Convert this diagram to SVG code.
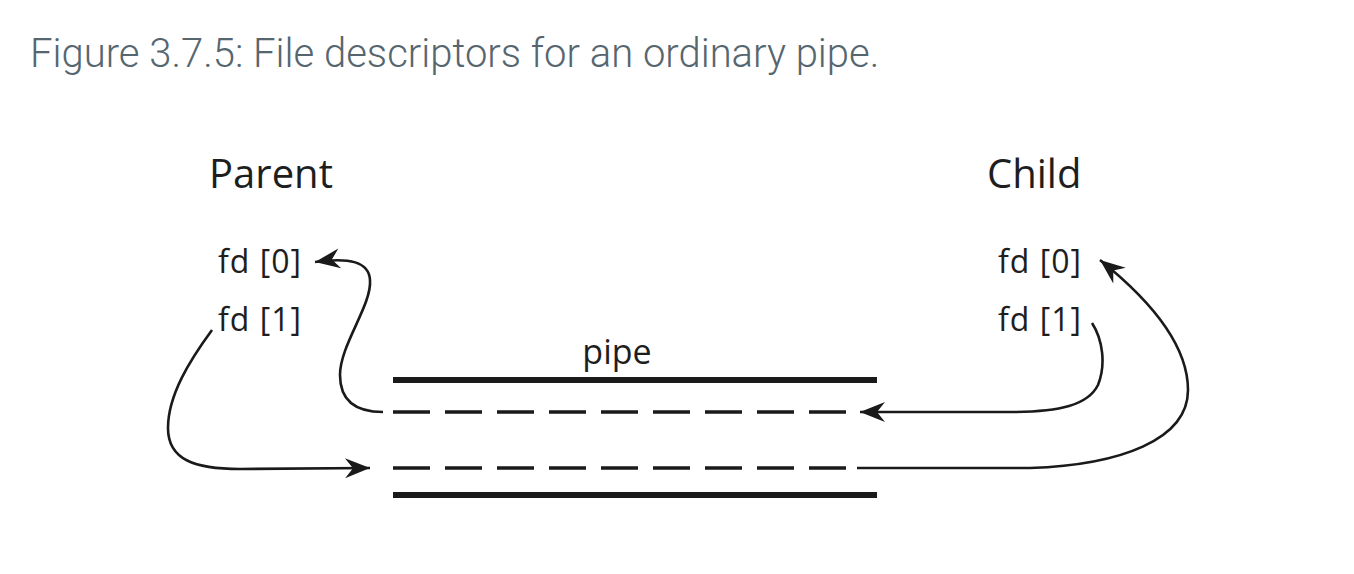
<svg xmlns="http://www.w3.org/2000/svg" width="1354" height="574" viewBox="0 0 1354 574">
<style>
.title{font-family:Roboto,"Liberation Sans",sans-serif;font-weight:300;font-size:40px;fill:#56666f}
.lbl{font-family:"Open Sans","Noto Sans","Liberation Sans",sans-serif;fill:#1e1e1e}
.big{font-size:40px}
.fd{font-size:32px;letter-spacing:1px}
.pipe{font-size:34px}
.solid{stroke:#1a1a1a;stroke-width:6;fill:none}
.dash{stroke:#1a1a1a;stroke-width:3.5;stroke-dasharray:37 15;fill:none}
.conn{stroke:#1a1a1a;stroke-width:2.6;fill:none}
</style>
<defs>
<marker id="ah" markerUnits="userSpaceOnUse" orient="auto" viewBox="-26 -11 28 22" refX="0" refY="0" markerWidth="28" markerHeight="22">
<path d="M0,0 L-25,-10 L-17,0 L-25,10 Z" fill="#1a1a1a"/>
</marker>
</defs>
<rect width="1354" height="574" fill="#fff"/>
<text class="title" x="30" y="67">Figure 3.7.5: File descriptors for an ordinary pipe.</text>

<g id="parent">
<text class="lbl big" x="209" y="188">Parent</text>
<text class="lbl fd" x="218" y="273">fd [0]</text>
<text class="lbl fd" x="218" y="331">fd [1]</text>
</g>
<g id="child">
<text class="lbl big" x="987" y="188">Child</text>
<text class="lbl fd" x="998" y="273">fd [0]</text>
<text class="lbl fd" x="998" y="331">fd [1]</text>
</g>
<g id="pipe">
<text class="lbl pipe" x="617" y="364" text-anchor="middle">pipe</text>
<line class="solid" x1="393" y1="380" x2="877" y2="380"/>
<line class="solid" x1="393" y1="495" x2="877" y2="495"/>
<line class="dash" x1="393" y1="412" x2="846" y2="412"/>
<line class="dash" x1="393" y1="468" x2="846" y2="468"/>
</g>
<g id="connectors">
<path class="conn" marker-end="url(#ah)" d="M383,412 C355,412 340,400 340,375 C340,345 372,305 370,280 C369,262 350,257 315,262"/>
<path class="conn" marker-end="url(#ah)" d="M212,330 C190,360 168,395 168,428 C168,460 195,469 240,469 L370,468"/>
<path class="conn" marker-end="url(#ah)" d="M1092,323 C1103,340 1106,365 1098,385 C1088,405 1060,412 1010,412 L860,412"/>
<path class="conn" marker-end="url(#ah)" d="M857,468 L1030,468 C1120,465 1188,440 1188,390 C1188,345 1150,300 1100,260"/>
</g>
</svg>
